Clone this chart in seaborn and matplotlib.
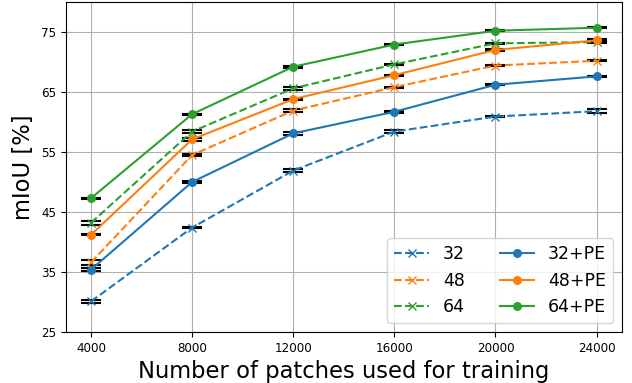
import matplotlib
matplotlib.use("Agg")
import matplotlib.pyplot as plt
import seaborn as sns
import numpy as np
import pandas as pd

# Training set sizes (number of patches)
patches = [4000, 8000, 12000, 16000, 20000, 24000]

# Mean mIoU [%] for each patch size, without and with positional encoding
miou_32 = [30.1, 42.4, 51.9, 58.4, 60.9, 61.8]
miou_48 = [36.6, 54.5, 61.9, 65.8, 69.4, 70.2]
miou_64 = [43.2, 58.4, 65.6, 69.6, 73.1, 73.3]
miou_32_pe = [35.4, 50.0, 58.1, 61.7, 66.2, 67.6]
miou_48_pe = [41.2, 57.1, 63.8, 67.8, 72.0, 73.6]
miou_64_pe = [47.3, 61.3, 69.2, 72.9, 75.2, 75.7]

# Standard deviation over runs
std_32 = [0.3, 0.1, 0.2, 0.2, 0.1, 0.3]
std_48 = [0.4, 0.2, 0.2, 0.1, 0.1, 0.1]
std_64 = [0.3, 0.2, 0.2, 0.1, 0.1, 0.2]
std_32_pe = [0.2, 0.1, 0.2, 0.2, 0.1, 0.1]
std_48_pe = [0.1, 0.2, 0.1, 0.1, 0.1, 0.2]
std_64_pe = [0.1, 0.1, 0.2, 0.1, 0.1, 0.1]

labels = ["32", "48", "64", "32+PE", "48+PE", "64+PE"]
means = [miou_32, miou_48, miou_64, miou_32_pe, miou_48_pe, miou_64_pe]
stds = [std_32, std_48, std_64, std_32_pe, std_48_pe, std_64_pe]

palette = sns.color_palette("tab10", 3)
colors = palette + palette
styles = ["--", "--", "--", "-", "-", "-"]
markers = ["x", "x", "x", "o", "o", "o"]

fig = plt.figure(figsize=(6.32, 3.83), dpi=100)
ax = fig.add_axes([0.104, 0.133, 0.880, 0.862])
ax.grid(True, color="#b0b0b0", linewidth=0.8)
ax.set_axisbelow(True)

for lab, m, s, c, ls, mk in zip(labels, means, stds, colors, styles, markers):
    df = pd.DataFrame({"patches": patches, "miou": m})
    ax.errorbar(patches, m, yerr=s, fmt="none", ecolor="black",
                capsize=7, capthick=1.5, elinewidth=1.0, zorder=2)
    sns.lineplot(data=df, x="patches", y="miou", ax=ax, color=c,
                 linestyle=ls, marker=mk,
                 markersize=5.5 if mk == "x" else 6.5,
                 markeredgecolor=c,
                 markeredgewidth=1.0 if mk == "x" else 0,
                 linewidth=1.5, label=lab, zorder=3)

ax.set_xlim(3000, 25000)
ax.set_ylim(25, 80)
ax.set_xticks(patches)
ax.set_yticks([25, 35, 45, 55, 65, 75])
ax.tick_params(labelsize=8.6)
ax.set_xlabel("Number of patches used for training", fontsize=16.3)
ax.set_ylabel("mIoU [%]", fontsize=16.3)
ax.legend(ncol=2, loc="lower right", fontsize=12.5)

fig.savefig("out.png", dpi=100)
